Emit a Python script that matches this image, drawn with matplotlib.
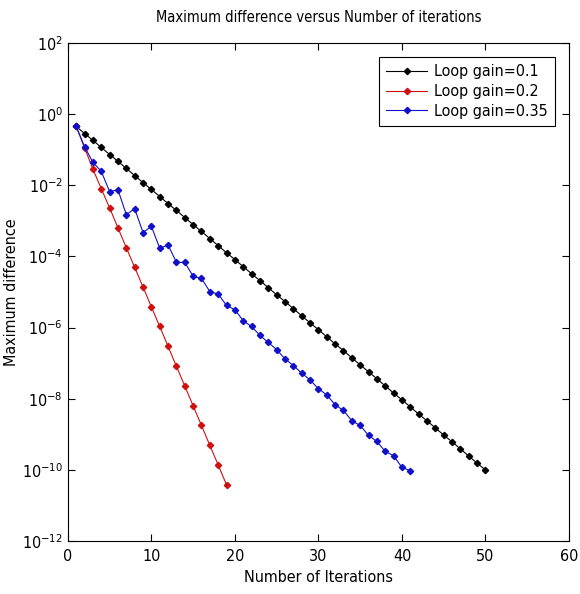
import numpy as np
import matplotlib
matplotlib.use("Agg")
import matplotlib.pyplot as plt
from matplotlib.ticker import FixedLocator, NullLocator

plt.rcParams['font.family'] = ['DejaVu Sans']
plt.rcParams['font.stretch'] = 'condensed'
plt.rcParams['mathtext.fontset'] = 'dejavusans'

# log10 of maximum difference
gain_01 = [-0.35, -0.55, -0.74, -0.94, -1.14, -1.33, -1.53, -1.73, -1.93, -2.12,
           -2.32, -2.52, -2.71, -2.91, -3.11, -3.30, -3.50, -3.70, -3.90, -4.09,
           -4.29, -4.49, -4.68, -4.88, -5.08, -5.27, -5.47, -5.67, -5.87, -6.06,
           -6.26, -6.46, -6.65, -6.85, -7.05, -7.24, -7.44, -7.64, -7.84, -8.03,
           -8.23, -8.43, -8.62, -8.82, -9.02, -9.21, -9.41, -9.61, -9.81, -10.00]
gain_02 = [-0.35, -0.95, -1.55, -2.10, -2.64, -3.20, -3.76, -4.31, -4.86, -5.42,
           -5.97, -6.53, -7.09, -7.64, -8.20, -8.75, -9.31, -9.86, -10.42]
gain_035 = [-0.35, -0.92, -1.36, -1.61, -2.18, -2.13, -2.83, -2.66, -3.33, -3.16,
            -3.77, -3.68, -4.17, -4.17, -4.56, -4.62, -4.99, -5.06, -5.38, -5.50,
            -5.81, -5.97, -6.22, -6.42, -6.62, -6.88, -7.07, -7.28, -7.47, -7.72,
            -7.89, -8.17, -8.33, -8.62, -8.75, -9.03, -9.20, -9.48, -9.60, -9.93,
            -10.02]

series = [
    ('Loop gain=0.1', gain_01, 'black'),
    ('Loop gain=0.2', gain_02, '#d01010'),
    ('Loop gain=0.35', gain_035, '#1010c8'),
]

fig = plt.figure(figsize=(5.8, 5.94), dpi=100)
ax = fig.add_axes([0.117, 0.089, 0.864, 0.839])

for label, vals, col in series:
    it = np.arange(1, len(vals) + 1)
    ax.semilogy(it, 10.0 ** np.array(vals), '-', color=col, lw=0.8,
                marker='D', ms=3.2, mec=col, mfc=col, label=label)

ax.set_xlim(0, 60)
ax.set_ylim(1e-12, 1e2)
ax.set_xticks(range(0, 61, 10))
ax.yaxis.set_major_locator(FixedLocator([10.0 ** p for p in range(-12, 3, 2)]))
ax.yaxis.set_minor_locator(NullLocator())
ax.tick_params(direction='in', top=True, right=True, length=5, width=0.8, labelsize=11.5)
ax.tick_params(axis='x', pad=6)
for s in ax.spines.values():
    s.set_linewidth(0.8)

ax.set_title('Maximum difference versus Number of iterations', fontsize=10.5, pad=15)
ax.set_xlabel('Number of Iterations', fontsize=11.5, labelpad=4)
ax.set_ylabel('Maximum difference', fontsize=11.5, labelpad=2)

leg = ax.legend(loc='upper right', fontsize=11.5, fancybox=False, framealpha=1,
                edgecolor='black', borderaxespad=0.9, handlelength=2.6,
                labelspacing=0.3, borderpad=0.45, handletextpad=0.4)
leg.get_frame().set_linewidth(0.8)

fig.savefig('out.png', dpi=100)
